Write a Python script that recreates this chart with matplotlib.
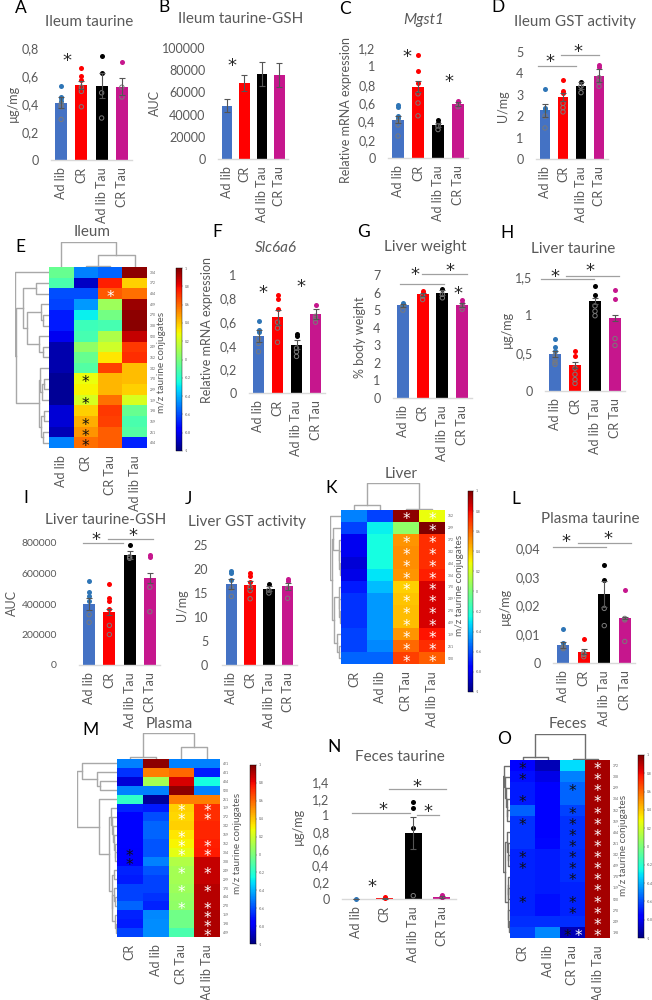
import matplotlib
matplotlib.use('Agg')
import matplotlib.pyplot as plt
import numpy as np

W = 652
H = 1000
GRAY = '#595959'
groups = ['Ad lib', 'CR', 'Ad lib Tau', 'CR Tau']
bar_colors = ['#4472C4', '#FF0000', '#000000', '#C6168D']
dot_colors = ['#2E75B6', '#FF0000', '#000000', '#C6168D']

# bar panels: group means, s.e.m. and single animals
A_means = [0.41, 0.535, 0.53, 0.525]
A_errs = [0.04, 0.03, 0.09, 0.06]
A_points = [[0.53, 0.45, 0.44, 0.42, 0.40, 0.38, 0.29], [0.66, 0.60, 0.57, 0.52, 0.49, 0.38],
            [0.74, 0.62, 0.48, 0.30], [0.70, 0.52, 0.45]]
A_ticks = [0, 0.2, 0.4, 0.6, 0.8]
A_labels = ['0', '0,2', '0,4', '0,6', '0,8']

B_means = [48000, 68500, 76500, 75500]
B_errs = [6000, 7000, 10500, 11000]
B_ticks = [0, 20000, 40000, 60000, 80000, 100000]
B_labels = ['0', '20000', '40000', '60000', '80000', '100000']

C_means = [0.42, 0.78, 0.36, 0.59]
C_errs = [0.04, 0.06, 0.02, 0.02]
C_points = [[0.58, 0.56, 0.46, 0.44, 0.40, 0.36, 0.24], [1.12, 0.95, 0.82, 0.70, 0.60, 0.46],
            [0.41, 0.38, 0.35, 0.31], [0.62, 0.60, 0.56]]
C_ticks = [0, 0.2, 0.4, 0.6, 0.8, 1, 1.2]
C_labels = ['0', '0,2', '0,4', '0,6', '0,8', '1', '1,2']

D_means = [2.28, 2.9, 3.43, 3.9]
D_errs = [0.3, 0.2, 0.15, 0.3]
D_points = [[3.27, 2.4, 2.3, 2.0, 1.45], [3.67, 3.2, 3.1, 2.6, 2.4, 2.2],
            [3.62, 3.4, 3.1], [4.4, 4.3, 3.8, 3.6, 3.4]]
D_ticks = [0, 1, 2, 3, 4, 5]
D_labels = ['0', '1', '2', '3', '4', '5']

F_means = [0.48, 0.64, 0.41, 0.67]
F_errs = [0.05, 0.06, 0.04, 0.04]
F_points = [[0.61, 0.53, 0.52, 0.46, 0.42, 0.35], [0.83, 0.80, 0.71, 0.60, 0.55, 0.43],
            [0.50, 0.48, 0.38, 0.35, 0.31], [0.75, 0.65, 0.63, 0.60]]
F_ticks = [0, 0.2, 0.4, 0.6, 0.8, 1]
F_labels = ['0', '0,2', '0,4', '0,6', '0,8', '1']

G_means = [5.27, 5.9, 6.0, 5.28]
G_errs = [0.08, 0.1, 0.15, 0.1]
G_points = [[5.4, 5.3, 5.2, 5.0], [6.1, 6.0, 5.8, 5.6], [6.2, 5.9, 5.7], [5.55, 5.4, 5.2, 5.05]]
G_ticks = [0, 1, 2, 3, 4, 5, 6, 7]
G_labels = ['0', '1', '2', '3', '4', '5', '6', '7']

H_means = [0.49, 0.34, 1.18, 0.96]
H_errs = [0.04, 0.04, 0.04, 0.04]
H_points = [[0.68, 0.58, 0.52, 0.47, 0.42, 0.38, 0.35], [0.52, 0.46, 0.30, 0.22, 0.15, 0.10],
            [1.38, 1.26, 1.12, 1.05, 0.99], [1.33, 1.21, 0.69, 0.60]]
H_ticks = [0, 0.5, 1, 1.5]
H_labels = ['0', '0,5', '1', '1,5']

I_means = [400000, 350000, 720000, 570000]
I_errs = [40000, 20000, 25000, 35000]
I_points = [[550000, 480000, 450000, 420000, 330000, 280000], [530000, 440000, 420000, 370000, 260000, 200000],
            [790000, 710000, 700000], [720000, 710000, 510000, 350000]]
I_ticks = [0, 200000, 400000, 600000, 800000]
I_labels = ['0', '200000', '400000', '600000', '800000']

J_means = [16.9, 16.7, 15.9, 16.4]
J_errs = [1.0, 0.8, 0.5, 0.7]
J_points = [[19.5, 19.2, 17.8, 16, 14.3], [19.2, 18.5, 17.3, 16.2, 15.5, 13.8],
            [16.8, 15.6, 15], [18, 17.5, 16, 13.9]]
J_ticks = [0, 5, 10, 15, 20, 25]
J_labels = ['0', '5', '10', '15', '20', '25']

L_means = [0.0062, 0.004, 0.024, 0.0157]
L_errs = [0.001, 0.001, 0.0045, 0.0004]
L_points = [[0.012, 0.007, 0.0055, 0.005], [0.0083, 0.0035, 0.003, 0.0022],
            [0.034, 0.029, 0.019, 0.013], [0.0255, 0.0155, 0.015, 0.0075]]
L_ticks = [0, 0.01, 0.02, 0.03, 0.04]
L_labels = ['0', '0,01', '0,02', '0,03', '0,04']

N_means = [0.002, 0.01, 0.79, 0.02]
N_errs = [0.001, 0.005, 0.19, 0.01]
N_points = [[0.002], [0.01, 0.02], [1.16, 1.09, 0.85, 0.04], [0.05, 0.03, 0.02, 0.02]]
N_ticks = [0, 0.2, 0.4, 0.6, 0.8, 1, 1.2, 1.4]
N_labels = ['0', '0,2', '0,4', '0,6', '0,8', '1', '1,2', '1,4']

# heatmaps: scaled levels, one row per conjugate
E_cols = ['Ad lib', 'CR', 'CR Tau', 'Ad lib Tau']
E_rows = ['304', '372', '484', '429', '270', '308', '520', '249', '362', '342', '170', '299', '159', '198', '369', '261', '404']
E_vals = [[-0.05, -0.50, -0.55, 0.97], [-0.12, -0.88, 0.75, 0.38], [-0.60, -0.60, 0.63, 0.58],
          [-0.62, -0.45, 0.08, 0.95], [-0.70, -0.28, -0.02, 0.97], [-0.70, -0.15, -0.13, 0.98],
          [-0.80, -0.13, 0.12, 0.88], [-0.92, 0.05, 0.20, 0.70], [-0.92, -0.05, 0.33, 0.72],
          [-0.92, -0.10, 0.68, 0.42], [-0.96, 0.27, 0.43, 0.42], [-0.96, 0.30, 0.43, 0.38],
          [-0.96, 0.22, 0.58, 0.22], [-0.85, 0.38, 0.70, -0.05], [-0.85, 0.45, 0.68, -0.12],
          [-0.90, 0.50, 0.62, -0.10], [-0.50, 0.58, 0.62, -0.68]]
E_black = [(10, 1), (12, 1), (14, 1), (15, 1), (16, 1)]
E_white = [(2, 2)]
E_col_tree = (1.0, 0, (0.47, (0.04, 1, 2), 3))
E_row_tree = (1.0, 0, (0.97, (0.76, (0.37, 1, 2), (0.66, (0.24, 3, (0.17, 4, 5)), (0.3, 6, (0.18, 7, 8)))),
                       (0.3, (0.27, 9, (0.2, (0.14, 10, 11), 12)), (0.24, (0.15, 13, 14), (0.18, 15, 16)))))

K_cols = ['CR', 'Ad lib', 'CR Tau', 'Ad lib Tau']
K_rows = ['362', '299', '372', '342', '484', '304', '170', '249', '270', '429', '159', '261', '520']
K_vals = [[-0.50, -0.62, 0.97, 0.27], [-0.62, -0.28, 0.05, 1.0], [-0.80, -0.25, 0.50, 0.72],
          [-0.80, -0.25, 0.52, 0.72], [-0.85, -0.25, 0.52, 0.72], [-0.82, -0.30, 0.50, 0.75],
          [-0.70, -0.38, 0.38, 0.85], [-0.65, -0.45, 0.40, 0.85], [-0.65, -0.45, 0.42, 0.85],
          [-0.65, -0.45, 0.42, 0.85], [-0.62, -0.45, 0.50, 0.78], [-0.62, -0.48, 0.60, 0.72],
          [-0.55, -0.55, 0.68, 0.62]]
K_black = []
K_white = [(r, 3) for r in range(13)] + [(r, 2) for r in range(13) if r != 1]
K_col_tree = (1.0, (0.17, 0, 1), (0.03, 2, 3))
K_row_tree = (1.0, 0, (0.85, (0.7, 1, (0.2, 2, (0.15, 3, (0.12, 4, 5)))),
                       (0.6, (0.2, 6, (0.15, 7, (0.1, 8, 9))), (0.35, 10, (0.2, 11, 12)))))

M_cols = ['CR', 'Ad lib', 'CR Tau', 'Ad lib Tau']
M_rows = ['421', '431', '404', '520', '261', '159', '372', '342', '369', '362', '304', '308', '249', '299', '170', '484', '270', '159', '198', '429']
M_vals = [[-0.50, 0.97, -0.50, -0.50], [-0.65, 0.55, 0.60, -0.70], [-0.85, 0.10, 0.85, -0.25],
          [-0.50, -0.50, 0.97, -0.50], [-0.18, -0.95, 0.55, 0.55], [-0.68, -0.70, 0.38, 0.72],
          [-0.75, -0.60, 0.36, 0.72], [-0.75, -0.55, 0.38, 0.74], [-0.75, -0.55, 0.33, 0.74],
          [-0.75, -0.58, 0.30, 0.75], [-0.78, -0.58, 0.25, 0.76], [-0.78, -0.50, 0.13, 0.88],
          [-0.68, -0.58, 0.10, 0.88], [-0.70, -0.62, 0.10, 0.88], [-0.62, -0.62, 0.08, 0.90],
          [-0.62, -0.65, 0.06, 0.90], [-0.55, -0.68, 0.05, 0.90], [-0.68, -0.48, -0.03, 0.92],
          [-0.70, -0.47, -0.03, 0.92], [-0.62, -0.47, -0.12, 0.92]]
M_black = [(10, 0), (11, 0)]
M_white = [(r, 2) for r in (5, 6, 8, 9, 10, 12, 14, 16)] + [(r, 3) for r in (5, 6, 9, 10, 12, 14, 16, 17, 18, 19)]
M_col_tree = (1.0, (0.06, 0, 1), (0.45, 2, 3))
M_row_tree = (1.0, (0.88, 0, (0.5, 1, (0.43, 2, 3))),
              (0.46, 4, (0.2, (0.15, 5, (0.12, 6, (0.1, 7, (0.08, 8, (0.06, 9, (0.04, 10, 11)))))),
                         (0.13, (0.08, 12, 13), (0.12, (0.07, 14, (0.05, 15, 16)), (0.05, 17, (0.03, 18, 19)))))))

O_cols = ['CR', 'Ad lib', 'CR Tau', 'Ad lib Tau']
O_rows = ['372', '308', '299', '304', '362', '369', '484', '261', '342', '429', '170', '159', '520', '270', '249', '198']
O_vals = [[-0.75, -0.90, -0.32, 0.93], [-0.72, -0.82, -0.50, 0.93], [-0.70, -0.78, -0.55, 0.93],
          [-0.70, -0.78, -0.55, 0.93], [-0.56, -0.78, -0.62, 0.93], [-0.65, -0.78, -0.65, 0.93],
          [-0.65, -0.78, -0.65, 0.93], [-0.65, -0.74, -0.65, 0.93], [-0.68, -0.70, -0.66, 0.93],
          [-0.68, -0.70, -0.66, 0.93], [-0.68, -0.70, -0.66, 0.93], [-0.68, -0.70, -0.68, 0.93],
          [-0.68, -0.72, -0.68, 0.93], [-0.68, -0.72, -0.68, 0.93], [-0.66, -0.66, -0.66, 0.93],
          [-0.62, -0.48, -0.90, 0.93]]
O_black = [(r, 0) for r in (0, 1, 3, 5, 8, 9, 12)] + [(r, 2) for r in (2, 4, 5, 6, 7, 8, 9, 10, 12, 13)]
O_white = [(r, 3) for r in range(16)]
O_col_tree = (1.0, (0.13, 0, 1), (0.03, 2, 3))
O_row_tree = (1.0, (0.8, 0, (0.7, 1, (0.6, 2, (0.5, 3, (0.4, 4, 5))))),
              (0.75, (0.4, 6, (0.35, 7, (0.3, 8, 9))), (0.35, (0.3, 10, (0.25, 11, 12)), (0.3, 13, (0.2, 14, 15)))))

plt.rcParams['font.family'] = ['Lato', 'DejaVu Sans']
fig = plt.figure(figsize=(W / 100, H / 100), dpi=100, facecolor='white')


def px_axes(x0, y0, x1, y1):
    # y0 is the top edge, in pixels from the top of the page
    return fig.add_axes([x0 / W, 1 - y1 / H, (x1 - x0) / W, (y1 - y0) / H])


page = px_axes(0, 0, W, H)
page.set_xlim(0, W)
page.set_ylim(H, 0)
page.axis('off')
page.set_zorder(10)
page.patch.set_alpha(0)


def label(x, y, s, size=9, color=GRAY, rotation=0, style='normal'):
    page.text(x, y, s, fontsize=size, color=color, rotation=rotation, style=style, ha='center', va='center')


def star(x, y, color='#262626', size=13):
    # the asterisk glyph sits high in its line box
    page.text(x, y + 5, '*', fontsize=size, color=color, ha='center', va='center', family='DejaVu Sans')


def sig_line(x0, x1, y):
    page.plot([x0, x1], [y, y], color='#a0a0a0', lw=0.9)


def bar_panel(x0, x1, y_zero, y_top, means, errs, ticks, tick_labels, points=None, width=0.6, pad=9, tick_size=9):
    top = ticks[-1]
    ax = px_axes(x0, y_top, x1, y_zero)
    ax.patch.set_alpha(0)
    ax.set_xlim(-0.5, 3.5)
    ax.set_ylim(0, top)
    ax.bar(range(4), means, width=width, color=bar_colors, zorder=2)
    ax.errorbar(range(4), means, yerr=errs, fmt='none', ecolor='#555555', elinewidth=0.8, capsize=2, capthick=0.8, zorder=4)
    if points is not None:
        for i, vals in enumerate(points):
            for v in vals:
                if v >= means[i]:
                    ax.scatter(i, v, s=13, color=dot_colors[i], zorder=3, clip_on=False, linewidths=0)
                else:
                    ax.scatter(i, v, s=10, facecolor='none', edgecolor='#7a7a7a', linewidths=0.7, zorder=3, clip_on=False)
    for side in ('top', 'right', 'left'):
        ax.spines[side].set_visible(False)
    ax.spines['bottom'].set_color('#d9d9d9')
    ax.spines['bottom'].set_linewidth(1)
    ax.set_xticks(range(4))
    ax.set_xticklabels(groups, rotation=90, fontsize=9, color=GRAY)
    ax.set_yticks(ticks)
    ax.set_yticklabels(tick_labels, fontsize=tick_size, color=GRAY)
    ax.tick_params(axis='x', length=0, pad=5)
    ax.tick_params(axis='y', length=0, pad=pad)
    return ax


def draw_tree(ax, node, horizontal):
    # node is a leaf index or (height, left, right); returns (position, height)
    if not isinstance(node, tuple):
        return node + 0.5, 0.0
    h, a, b = node
    pa, ha = draw_tree(ax, a, horizontal)
    pb, hb = draw_tree(ax, b, horizontal)
    along = [pa, pa, pb, pb]
    up = [ha, h, h, hb]
    if horizontal:
        ax.plot(along, up, color=tree_color, lw=1)
    else:
        ax.plot(up, along, color=tree_color, lw=1)
    return (pa + pb) / 2, h


tree_color = '#a8a8a8'


def heat_star(ax, x, y, color):
    ax.text(x, y, '*', fontsize=11, color=color, ha='center', va='center', family='DejaVu Sans')


def heat_panel(box, cols, rows, vals, black, white, col_tree, row_tree, col_top, row_left, bar_box, side_x, side_y):
    x0, y0, x1, y1 = box
    ax = px_axes(x0, y0, x1, y1)
    mesh = ax.pcolormesh(np.array(vals), cmap='jet', vmin=-1, vmax=1)
    ax.set_xlim(0, len(cols))
    ax.set_ylim(len(rows), 0)
    for side in ax.spines.values():
        side.set_visible(False)
    ax.set_xticks(np.arange(len(cols)) + 0.5)
    ax.set_xticklabels(cols, rotation=90, fontsize=9, color=GRAY)
    ax.yaxis.tick_right()
    ax.set_yticks(np.arange(len(rows)) + 0.5)
    ax.set_yticklabels(rows, fontsize=2.4, color=GRAY)
    ax.tick_params(length=0, pad=2)
    ax.tick_params(axis='x', pad=5)
    shift = 4 / ((y1 - y0) / len(rows))
    for r, c in black:
        heat_star(ax, c + 0.5, r + 0.5 + shift, '#101010')
    for r, c in white:
        heat_star(ax, c + 0.5, r + 0.5 + shift, 'white')

    top = px_axes(x0, col_top, x1, y0)
    top.set_xlim(0, len(cols))
    top.set_ylim(0, 1)
    top.axis('off')
    draw_tree(top, col_tree, True)

    left = px_axes(row_left, y0, x0, y1)
    left.set_xlim(1, 0)
    left.set_ylim(len(rows), 0)
    left.axis('off')
    draw_tree(left, row_tree, False)

    cax = px_axes(*bar_box)
    cb = fig.colorbar(mesh, cax=cax)
    cb.set_ticks(np.round(np.arange(-1, 1.01, 0.2), 1))
    cb.set_ticklabels(['-1', '-0.8', '-0.6', '-0.4', '-0.2', '0', '0.2', '0.4', '0.6', '0.8', '1'])
    cb.ax.tick_params(length=1, width=0.3, labelsize=2.4, labelcolor=GRAY, color=GRAY, pad=1)
    cb.outline.set_linewidth(0.3)
    label(side_x, side_y, 'm/z taurine conjugates', size=7.2, rotation=90)
    return ax


# bar panels
bar_panel(51, 132, 160, 48, A_means, A_errs, A_ticks, A_labels, A_points)
bar_panel(218, 288, 159, 48, B_means, B_errs, B_ticks, B_labels)
bar_panel(388, 468, 158, 48, C_means, C_errs, C_ticks, C_labels, C_points)
bar_panel(536, 608, 159, 52, D_means, D_errs, D_ticks, D_labels, D_points)
bar_panel(249, 325, 393, 275, F_means, F_errs, F_ticks, F_labels, F_points)
bar_panel(393, 472, 398, 275, G_means, G_errs, G_ticks, G_labels, G_points)
bar_panel(545, 625, 391, 277, H_means, H_errs, H_ticks, H_labels, H_points)
bar_panel(79, 160, 665, 543, I_means, I_errs, I_ticks, I_labels, I_points, pad=16, tick_size=7.5)
bar_panel(222, 297, 665, 545, J_means, J_errs, J_ticks, J_labels, J_points, pad=10)
bar_panel(553, 635, 663, 548, L_means, L_errs, L_ticks, L_labels, L_points)
bar_panel(342, 456, 899, 782, N_means, N_errs, N_ticks, N_labels, N_points)

# heatmaps with row and column trees
heat_panel((49, 267, 147, 448), E_cols, E_rows, E_vals, E_black, E_white, E_col_tree, E_row_tree, 242, 15,
           (176, 268, 182, 451), 162, 362)
heat_panel((341, 510, 445, 664), K_cols, K_rows, K_vals, K_black, K_white, K_col_tree, K_row_tree, 483, 330,
           (468, 491, 473, 692), 459, 585)
heat_panel((117, 759, 220, 937), M_cols, M_rows, M_vals, M_black, M_white, M_col_tree, M_row_tree, 733, 77,
           (250, 765, 256, 944), 238, 843)
tree_color = '#6e6e6e'
ax_o = heat_panel((510, 760, 610, 938), O_cols, O_rows, O_vals, O_black, O_white, O_col_tree, O_row_tree, 734, 503,
                  (638, 755, 644, 938), 624, 845)

# last row of panel O has two marks in one cell
heat_star(ax_o, 2.3, 15.86, '#101010')
heat_star(ax_o, 2.72, 15.86, 'white')

# titles
for x, y, s in [(89, 22, 'Ileum taurine'), (241, 19, 'Ileum taurine-GSH'), (575, 22, 'Ileum GST activity'),
                (92, 232, 'Ileum'), (425, 247, 'Liver weight'), (573, 249, 'Liver taurine'),
                (106, 520, 'Liver taurine-GSH'), (247, 522, 'Liver GST activity'), (401, 474, 'Liver'),
                (590, 519, 'Plasma taurine'), (169, 724, 'Plasma'), (400, 757, 'Feces taurine'), (568, 724, 'Feces')]:
    label(x, y, s, size=11)
label(424, 20, 'Mgst1', size=11, style='italic')
label(276, 248, 'Slc6a6', size=11, style='italic')

# panel letters
for x, y, s in [(21, 8, 'A'), (164, 7, 'B'), (345, 9, 'C'), (498, 7, 'D'), (20, 247, 'E'), (217, 232, 'F'),
                (364, 232, 'G'), (507, 233, 'H'), (26, 498, 'I'), (188, 499, 'J'), (331, 488, 'K'),
                (516, 499, 'L'), (90, 730, 'M'), (334, 747, 'N'), (504, 739, 'O')]:
    label(x, y, s, size=12.5, color='black')

# y axis names
for x, y, s in [(13, 103, 'µg/mg'), (155, 103, 'AUC'), (346, 110, 'Relative mRNA expression'), (503, 106, 'U/mg'),
                (207, 330, 'Relative mRNA expression'), (360, 337, '% body weight'), (507, 329, 'µg/mg'),
                (12, 603, 'AUC'), (182, 605, 'U/mg'), (505, 606, 'µg/mg'), (298, 826, 'µg/mg')]:
    label(x, y, s, size=9, rotation=90)

# significance marks
for x, y in [(67, 56), (232, 61), (407, 52), (449, 77), (550, 57), (578, 47), (263, 288), (301, 282),
             (415, 270), (450, 266), (458, 289), (555, 272), (590, 266), (96, 535), (133, 531),
             (566, 537), (608, 534), (383, 805), (417, 782), (428, 807), (372, 882)]:
    star(x, y)
for x0, x1, y in [(538, 576, 66), (561, 599, 55), (400, 444, 284), (422, 467, 274), (541, 594, 279), (566, 619, 276),
                  (83, 123, 543), (108, 153, 539), (553, 606, 547), (578, 631, 543),
                  (352, 410, 813), (389, 446, 789), (417, 439, 815)]:
    sig_line(x0, x1, y)

fig.savefig('out.png', dpi=100)
